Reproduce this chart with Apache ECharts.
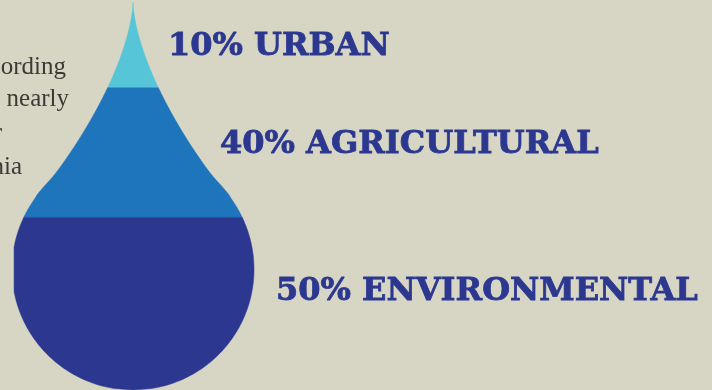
<!DOCTYPE html>
<html>
<head>
<meta charset="utf-8">
<style>
  html, body { margin: 0; padding: 0; background: #d7d6c5; }
  #app { width: 712px; height: 390px; }
</style>
<script src="https://cdn.jsdelivr.net/npm/echarts@6/dist/echarts.min.js"></script>
</head>
<body>
<div id="app"></div>
<script>
const categories = ['URBAN', 'AGRICULTURAL', 'ENVIRONMENTAL'];
const shares = [10, 40, 50];
const bandColors = ['#56c5d7', '#1e75bb', '#2c378f'];

// the drop is measured in bulb radii, tip at 0
const cuts = [0, 0.711, 1.785, 3.215];
const bulbY = 2.215;
const cropLeft = -0.983;
const labelAt = [[0.289, 0.372], [0.719, 1.185], [1.182, 2.4]];

const paragraph = [
  ['Water use according', 66, 80],
  ['in California, nearly', 69, 112],
  ['half of the water', 2, 146],
  ['used in California', 22, 180]
];

function smooth(t) {
  t = Math.min(1, Math.max(0, t));
  return t * t * (3 - 2 * t);
}

// half width of the drop at depth u
function halfWidth(u) {
  const d = u - bulbY;
  const c = Math.abs(d) < 1 ? Math.sqrt(1 - d * d) : 0;
  if (u >= bulbY) return c;
  const p = 0.363 * Math.pow(u, 1.6) * (1 - smooth((u - 1.595) / 0.165));
  if (c === 0) return p;
  if (p === 0) return c;
  const k = 0.025;
  return (p + c + Math.sqrt((p - c) * (p - c) + k * k)) / 2;
}

const chart = echarts.init(document.getElementById('app'));

chart.setOption({
  backgroundColor: '#d7d6c5',
  animation: false,
  grid: { left: 12, top: 2, width: 242, height: 389 },
  xAxis: { type: 'value', min: -1, max: 1, show: false },
  yAxis: { type: 'value', min: 0, max: 3.215, inverse: true, show: false },
  graphic: paragraph.map(([t, x, y]) => ({
    type: 'text',
    style: {
      text: t, x: x, y: y, align: 'right', verticalAlign: 'bottom',
      fill: '#3b3a36', fontFamily: 'Liberation Serif', fontSize: 25
    }
  })),
  series: [{
    type: 'custom',
    clip: false,
    data: shares.map((v, i) => [i, v]),
    renderItem(params, api) {
      const i = params.dataIndex;
      const top = cuts[i], bot = cuts[i + 1];
      const right = [], left = [];
      const n = 120;
      for (let k = 0; k <= n; k++) {
        const u = top + (bot - top) * k / n;
        const w = halfWidth(u);
        right.push(api.coord([w, u]));
        left.unshift(api.coord([Math.max(-w, cropLeft), u]));
      }
      const pos = api.coord(labelAt[i]);
      return {
        type: 'group',
        children: [
          {
            type: 'polygon',
            shape: { points: right.concat(left) },
            style: { fill: bandColors[i], stroke: bandColors[i], lineWidth: 0.5 }
          },
          {
            type: 'text',
            style: {
              text: api.value(1) + '% ' + categories[i],
              x: pos[0], y: pos[1],
              align: 'left', verticalAlign: 'middle',
              fill: '#2c3890',
              stroke: '#2c3890', lineWidth: 0.8,
              fontFamily: 'DejaVu Serif', fontWeight: 'bold', fontSize: 32
            }
          }
        ]
      };
    }
  }]
});
</script>
</body>
</html>
